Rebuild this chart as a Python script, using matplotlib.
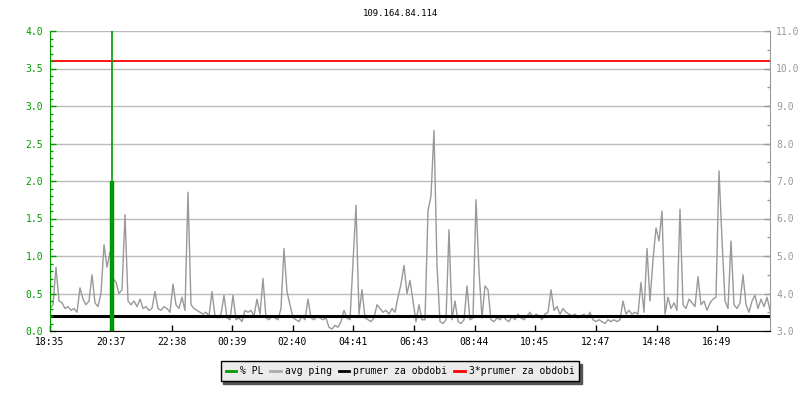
import numpy as np
import matplotlib
matplotlib.use("Agg")
import matplotlib.pyplot as plt
from matplotlib.ticker import MultipleLocator, FixedLocator
from matplotlib.lines import Line2D

title = "109.164.84.114"
start_label = "18:35"
tick_labels = ["18:35", "20:37", "22:38", "00:39", "02:40", "04:41",
               "06:43", "08:44", "10:45", "12:47", "14:48", "16:49"]
span_min = 1440
step_min = 6

# avg ping (right axis), one sample per 6 minutes from 18:35
avg_ping = [
    3.6, 3.7, 4.7, 3.8, 3.75, 3.6, 3.65, 3.55, 3.6, 3.5, 4.15, 3.85, 3.7, 3.8,
    4.5, 3.75, 3.65, 4.0, 5.3, 4.7, 5.1,
    4.4, 4.3, 4.0, 4.1, 6.1, 3.8, 3.7, 3.8, 3.65, 3.85, 3.6, 3.65, 3.55, 3.6,
    4.05, 3.6, 3.55, 3.65, 3.6, 3.5,
    4.25, 3.7, 3.6, 3.9, 3.55, 6.7, 3.7, 3.6, 3.55, 3.5, 3.45, 3.5, 3.4, 4.05,
    3.4, 3.35, 3.45, 3.95, 3.35, 3.3,
    3.95, 3.3, 3.35, 3.25, 3.55, 3.5, 3.55, 3.4, 3.85, 3.45, 4.4, 3.35, 3.3,
    3.4, 3.35, 3.3, 3.6, 5.2, 4.05, 3.7,
    3.35, 3.3, 3.25, 3.4, 3.3, 3.85, 3.35, 3.3, 3.4, 3.35, 3.3, 3.35, 3.1,
    3.05, 3.15, 3.1, 3.25, 3.55, 3.35, 3.3,
    4.85, 6.35, 3.45, 4.1, 3.35, 3.3, 3.25, 3.35, 3.7, 3.6, 3.5, 3.55, 3.45,
    3.6, 3.5, 3.9, 4.25, 4.75, 4.0, 4.35,
    3.8, 3.25, 3.7, 3.3, 3.3, 6.2, 6.6, 8.35, 4.75, 3.25, 3.2, 3.3, 5.7, 3.3,
    3.8, 3.25, 3.2, 3.3, 4.2, 3.3,
    3.35, 6.5, 4.6, 3.35, 4.2, 4.1, 3.3, 3.25, 3.35, 3.3, 3.4, 3.3, 3.25,
    3.4, 3.3, 3.45, 3.35, 3.3, 3.4, 3.5,
    3.35, 3.45, 3.4, 3.3, 3.45, 3.5, 4.1, 3.55, 3.65, 3.45, 3.6, 3.5, 3.45,
    3.4, 3.45, 3.35, 3.4, 3.45, 3.35, 3.5,
    3.3, 3.25, 3.3, 3.25, 3.2, 3.3, 3.25, 3.3, 3.25, 3.3, 3.8, 3.45, 3.55,
    3.45, 3.5, 3.45, 4.3, 3.5, 5.2, 3.8,
    4.9, 5.75, 5.4, 6.2, 3.45, 3.9, 3.6, 3.75, 3.55, 6.25, 3.7, 3.6, 3.85,
    3.75, 3.65, 4.45, 3.7, 3.8, 3.55, 3.75,
    3.85, 3.9, 7.27, 5.45, 3.8, 3.6, 5.4, 3.7, 3.6, 3.75, 4.5, 3.7, 3.5, 3.8,
    3.95, 3.6, 3.85, 3.65, 3.9, 3.55,
]
mean_ping = 3.4

# % PL (left axis)
pl_time = 124
pl_value = 2.0
pl_peak = 4.0

green = "#009900"
gray = "#999999"
plt.rcParams["font.family"] = "DejaVu Sans Mono"
plt.rcParams["font.size"] = 7

def minutes(label):
    h, m = map(int, label.split(":"))
    h0, m0 = map(int, start_label.split(":"))
    return (h * 60 + m - h0 * 60 - m0) % 1440

t = np.arange(len(avg_ping)) * step_min

fig = plt.figure(figsize=(8, 4), dpi=100, facecolor="white")
ax1 = fig.add_axes([0.0625, 0.1725, 0.9, 0.75])
ax2 = ax1.twinx()
ax1.set_zorder(ax2.get_zorder() + 1)
ax1.patch.set_visible(False)

# right axis: ping
ax2.set_ylim(3, 11)
ax2.yaxis.set_major_locator(MultipleLocator(1))
ax2.yaxis.set_minor_locator(MultipleLocator(0.5))
ax2.grid(True, axis="y", color="#bbbbbb", lw=1)
ax2.set_axisbelow(True)
ax2.plot(t, avg_ping, color=gray, lw=1.0, zorder=2)
ax2.axhline(mean_ping, color="black", lw=2.2, zorder=3)
ax2.axhline(3 * mean_ping, color="red", lw=1.3, zorder=3)
ax2.yaxis.set_major_formatter(matplotlib.ticker.FormatStrFormatter("%.1f"))
ax2.tick_params(axis="y", which="major", direction="in", length=4, width=1,
                colors=gray, pad=4.5, labelsize=7)
ax2.tick_params(axis="y", which="minor", direction="in", length=2.2, width=1,
                colors=gray)
for s in ["left", "top", "bottom"]:
    ax2.spines[s].set_visible(False)
ax2.spines["right"].set_color(gray)

# left axis: packet loss
ax1.set_xlim(0, span_min)
ax1.set_ylim(0, 4)
ax1.yaxis.set_major_locator(MultipleLocator(0.5))
ax1.yaxis.set_minor_locator(MultipleLocator(0.1))
ax1.yaxis.set_major_formatter(matplotlib.ticker.FormatStrFormatter("%.1f"))
ax1.vlines(pl_time, 0, pl_peak, color=green, lw=1.2)
ax1.vlines(pl_time, 0, pl_value, color=green, lw=3.2)
ax1.tick_params(axis="y", which="major", direction="in", length=4, width=1,
                colors=green, pad=5, labelsize=7)
ax1.tick_params(axis="y", which="minor", direction="in", length=2.2, width=1,
                colors=green)
ax1.xaxis.set_major_locator(FixedLocator([minutes(l) for l in tick_labels]))
ax1.set_xticklabels(tick_labels)
ax1.tick_params(axis="x", direction="in", length=4, width=1, colors="black",
                pad=4, labelsize=7)
ax1.spines["left"].set_color(green)
ax1.spines["top"].set_visible(False)
ax1.spines["right"].set_visible(False)
ax1.spines["bottom"].set_color("black")

fig.text(0.5, 0.965, title, ha="center", va="center", fontsize=6.5)

handles = [Line2D([], [], color=green, lw=2),
           Line2D([], [], color="#aaaaaa", lw=2),
           Line2D([], [], color="black", lw=2),
           Line2D([], [], color="red", lw=2)]
names = ["% PL", "avg ping", "prumer za obdobi", "3*prumer za obdobi"]
leg = fig.legend(handles, names, loc="center", bbox_to_anchor=(0.5, 0.0725),
                 ncol=4, fontsize=7, handlelength=1.1, handletextpad=0.4,
                 columnspacing=0.7, borderpad=0.5, fancybox=False,
                 framealpha=1, facecolor="#ebebeb", edgecolor="black",
                 shadow={"color": "#555555", "alpha": 1})
leg.get_frame().set_linewidth(1)

fig.savefig("out.png", dpi=100, facecolor="white")
